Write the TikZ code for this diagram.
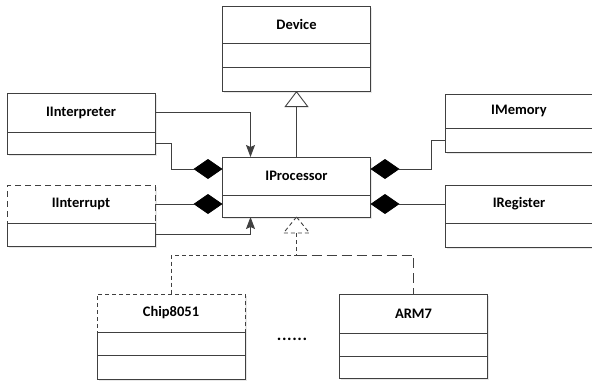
\documentclass[tikz,border=0pt]{standalone}
\usepackage{fontspec}
\setmainfont{Carlito}
\usetikzlibrary{arrows.meta,calc,shadows}
\definecolor{lc}{HTML}{404040}
\begin{document}
\begin{tikzpicture}[x=1pt,y=-1pt,
  ln/.style={draw=lc, line width=0.9pt},
  box/.style={ln, fill=white, minimum width=148pt, inner sep=0pt, outer sep=0pt,
    drop shadow={shadow xshift=1.6pt, shadow yshift=-1.6pt, fill=black!18}},
  ttl/.style={box, font=\bfseries\fontsize{14.5}{17}\selectfont},
  cmp/.style={box, anchor=north},
  dsh/.style={dash pattern=on 6pt off 4pt},
  fdsh/.style={dash pattern=on 4pt off 3pt},
  cdsh/.style={dash pattern=on 10pt off 5pt},
  assoc/.style={ln, -{Stealth[length=12pt,width=9pt,inset=2pt,fill=lc]}},
  comp/.style={ln, -{Diamond[length=29pt,width=20pt,fill=black,color=black]}},
  inh/.style={ln, -{Triangle[open,length=16pt,width=24pt,fill=white]}}
]
\useasboundingbox (0,0) rectangle (592,388);

% Device
\node[ttl, minimum height=37pt] (dev) at (296.5,24.5) {Device};
\node[cmp, minimum height=24.5pt] (dev2) at (dev.south) {};
\node[cmp, minimum height=23.5pt] (dev3) at (dev2.south) {};

% IInterpreter
\node[ttl, minimum height=39pt] (interp) at (81,112.5) {IInterpreter};
\node[cmp, minimum height=22pt] (interpc) at (interp.south) {};

% IProcessor
\node[ttl, minimum height=38pt] (proc) at (296.5,176) {IProcessor};
\node[cmp, minimum height=22pt] (procc) at (proc.south) {};

% IInterrupt
\node[ttl, dsh, minimum height=38pt] (intr) at (81,204) {IInterrupt};
\node[cmp, minimum height=23pt] (intrc) at (intr.south) {};

% IMemory
\node[ttl, minimum height=34pt] (mem) at (519,111) {IMemory};
\node[cmp, minimum height=24pt] (memc) at (mem.south) {};

% IRegister
\node[ttl, minimum height=38pt] (reg) at (519,204) {IRegister};
\node[cmp, minimum height=24pt] (regc) at (reg.south) {};

% Chip8051
\node[ttl, fdsh, minimum height=38pt] (chip) at (171,313) {Chip8051};
\node[cmp, minimum height=23pt] (chip2) at (chip.south) {};
\node[cmp, minimum height=24pt] (chip3) at (chip2.south) {};

% ARM7
\node[ttl, minimum height=39pt] (arm) at (413.5,313.5) {ARM7};
\node[cmp, minimum height=23pt] (arm2) at (arm.south) {};
\node[cmp, minimum height=22.5pt] (arm3) at (arm2.south) {};

% dots
\node[font=\bfseries\fontsize{17}{19}\selectfont, inner sep=0pt] (dots) at (292,339)
  {.\hspace{0.6pt}.\hspace{0.6pt}.\hspace{0.6pt}.\hspace{0.6pt}.\hspace{0.6pt}.};

% associations
\draw[assoc] (interp.east) -| ($(proc.north west)+(28,0)$);
\draw[assoc] (intrc.east) -| ($(procc.south west)+(28,0)$);

% compositions
\draw[comp] (interpc.east) -- ++(16,0) |- ($(proc.north west)+(0,12)$);
\draw[comp] (intr.east) -- (intr.east -| proc.west);
\draw[comp] (memc.west) -- ++(-14,0) |- ($(proc.north east)+(0,12)$);
\draw[comp] (reg.west) -- (reg.west -| proc.east);

% inheritance
\draw[inh] (proc.north) -- (dev3.south);

% realization
\coordinate (rb) at ($(procc.south)+(0,16)$);
\coordinate (rj) at ($(rb)+(0,22)$);
\draw[ln, fdsh, fill=white] (procc.south) -- ($(rb)+(-13,0)$) -- ($(rb)+(13,0)$) -- cycle;
\draw[ln, fdsh] (rb) -- (rj) -| (chip.north);
\draw[ln, cdsh] (rj) -| (arm.north);
\end{tikzpicture}
\end{document}
